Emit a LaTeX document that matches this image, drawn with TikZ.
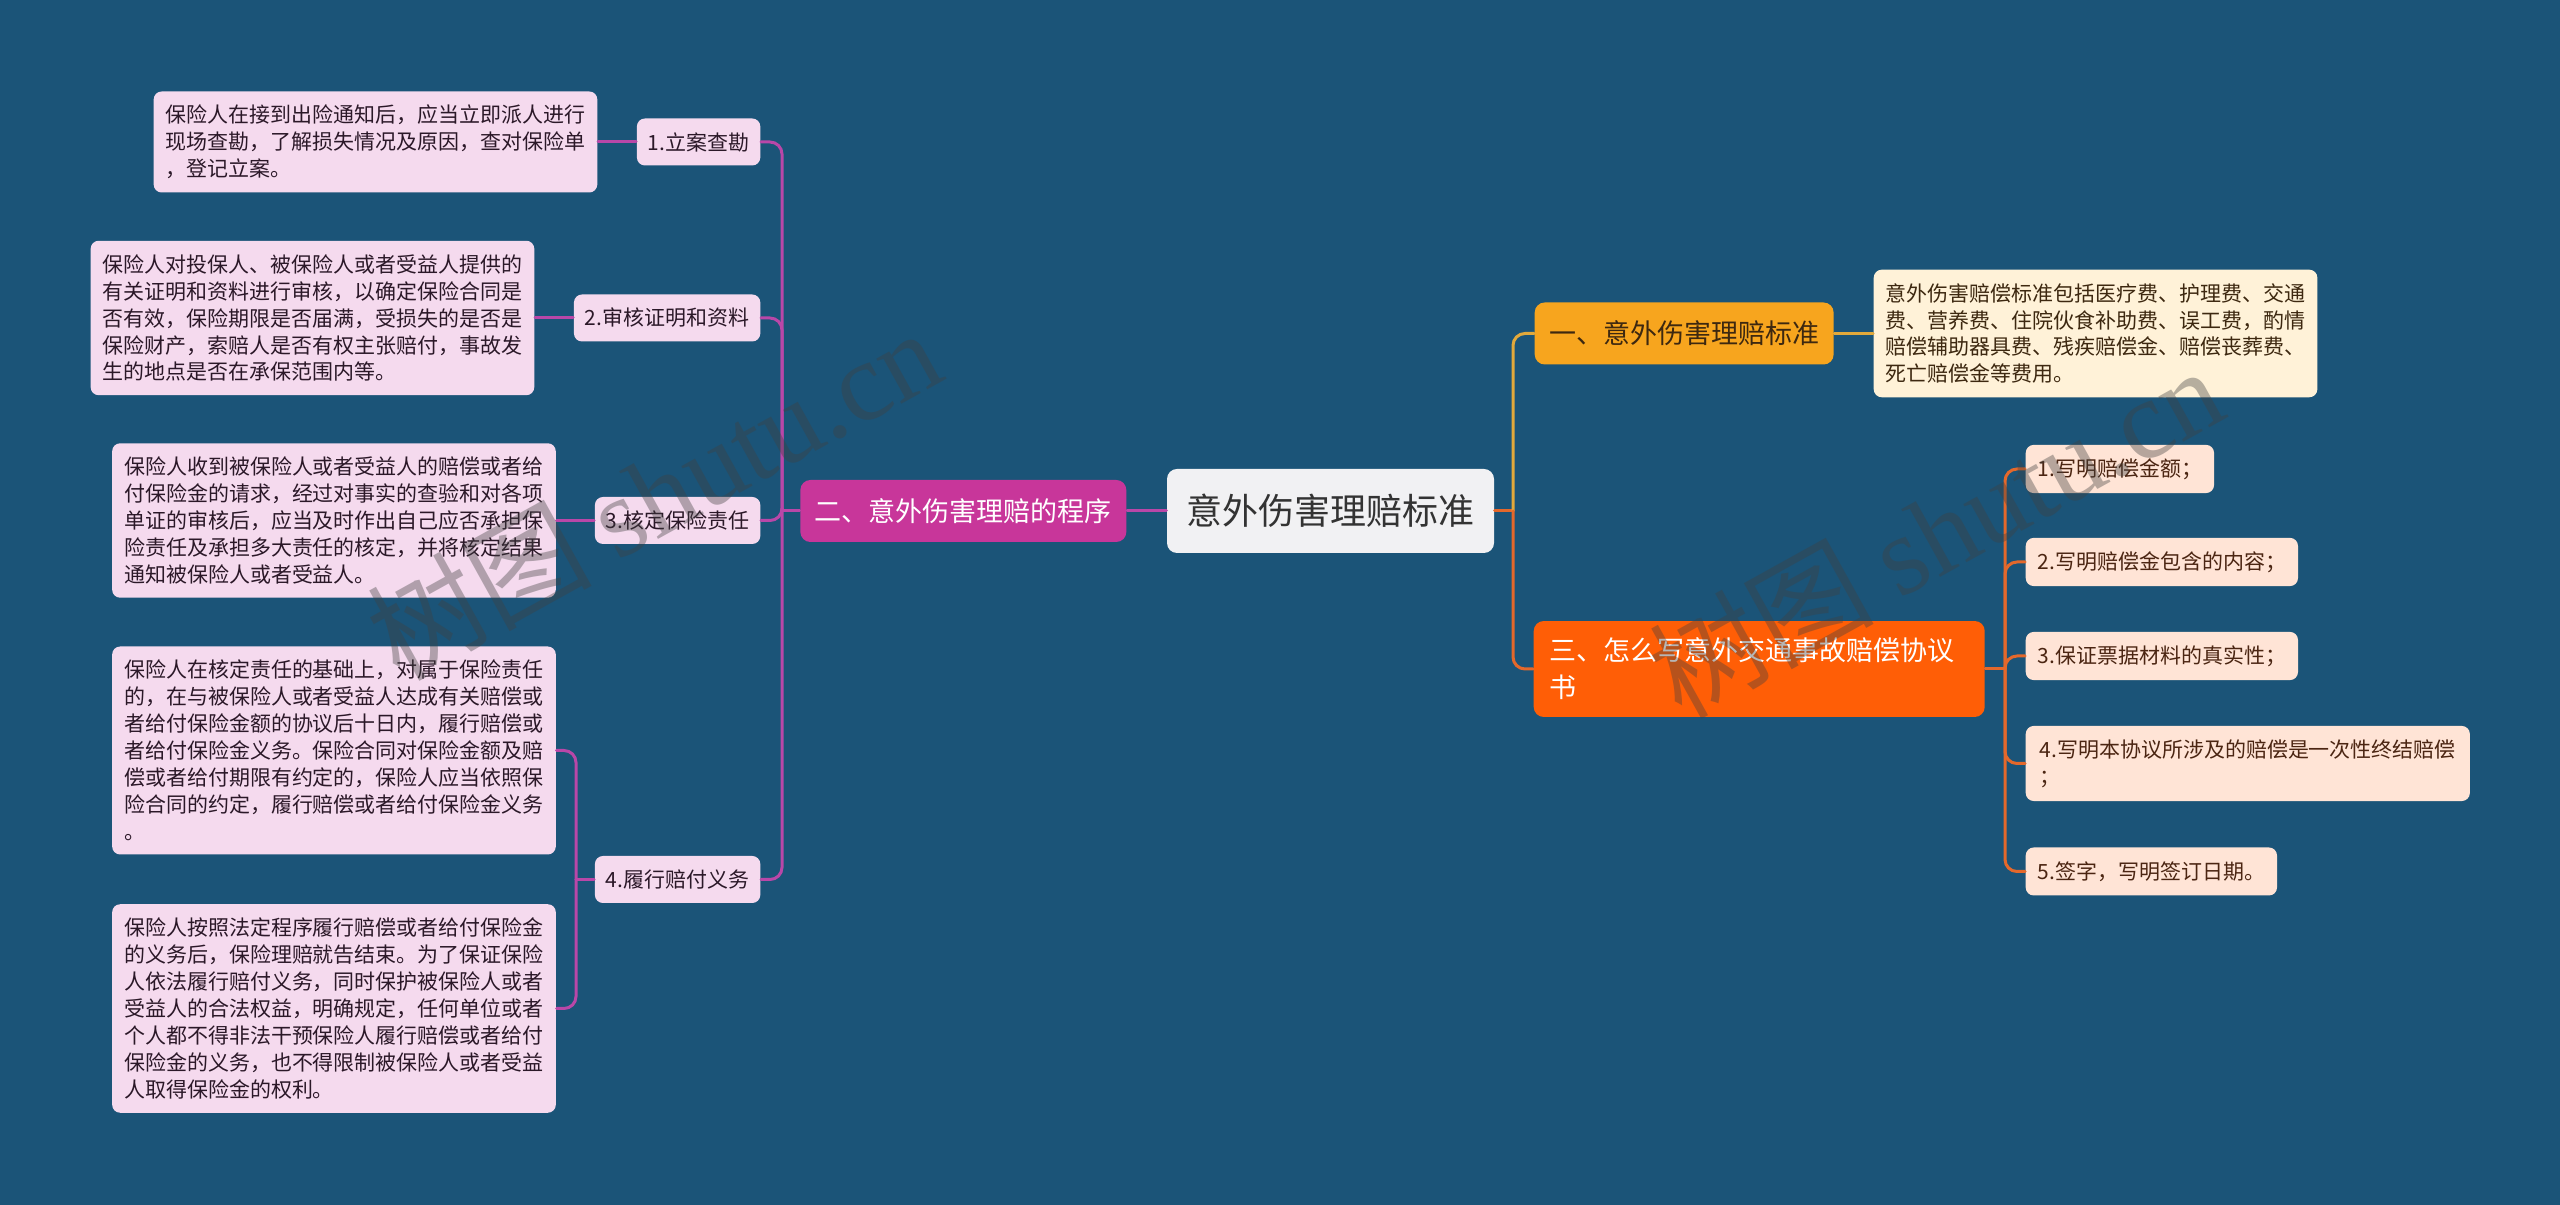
\documentclass[tikz,border=0pt]{standalone}
\usepackage{fontspec}
\setmainfont{Noto Sans CJK SC}
\newfontfamily\wmfont{Liberation Serif}
\usepackage{tikz}
\usetikzlibrary{positioning}
\usepackage{xcolor}
\definecolor{bgblue}{HTML}{1B5478}
\definecolor{rootfill}{HTML}{F1F1F3}
\definecolor{pinkfill}{HTML}{F5DAEE}
\definecolor{pinktext}{HTML}{2B1828}
\definecolor{creamfill}{HTML}{FFF2D8}
\definecolor{creamtext}{HTML}{3D2810}
\definecolor{peachfill}{HTML}{FFE4D6}
\definecolor{peachtext}{HTML}{4B2512}
\definecolor{yelfill}{HTML}{F7A51E}
\definecolor{magfill}{HTML}{C8369A}
\definecolor{orgfill}{HTML}{FF5E06}
\definecolor{magline}{HTML}{B947A8}
\definecolor{yelline}{HTML}{E2A93B}
\definecolor{orgline}{HTML}{E4682B}

\begin{document}
\begin{tikzpicture}[line cap=round,line join=round,
  box/.style={rounded corners=0.08cm,inner xsep=0.12cm,inner ysep=0.135cm,align=left,font=\fontsize{5.97}{7.68}\selectfont},
  pinkbox/.style={box,fill=pinkfill,text=pinktext},
  creambox/.style={box,fill=creamfill,text=creamtext},
  peachbox/.style={box,fill=peachfill,text=peachtext,minimum height=0.48cm},
  branch/.style={rounded corners=0.1cm,inner xsep=0.145cm,minimum height=0.62cm,font=\fontsize{7.68}{10.5}\selectfont},
  link/.style={line width=0.03cm,rounded corners=0.12cm},
  wmark/.style={opacity=0.38,text=black!75,rotate=29,font=\fontsize{32}{36}\selectfont}]
\fill[bgblue] (0,0) rectangle (25.6,-12.05);
\useasboundingbox (0,0) rectangle (25.6,-12.05);

\node[rounded corners=0.1cm,fill=rootfill,text=black!80,minimum width=3.27cm,minimum height=0.84cm,font=\fontsize{10.24}{12}\selectfont] (root) at (13.305,-5.11) {意外伤害理赔标准};

\node[branch,fill=yelfill,text=creamtext,anchor=west] (b1) at (15.34,-3.335) {一、意外伤害理赔标准};
\node[branch,fill=magfill,text=white,anchor=east] (b2) at (11.27,-5.11) {二、意外伤害理赔的程序};
\node[branch,fill=orgfill,text=white,anchor=west,align=left,text width=4.19cm,inner xsep=0.16cm,inner ysep=0.17cm] (b3) at (15.33,-6.69) {三、怎么写意外交通事故赔偿协议\\书};

\node[creambox,anchor=west] (n1) at (18.73,-3.335) {意外伤害赔偿标准包括医疗费、护理费、交通\\费、营养费、住院伙食补助费、误工费，酌情\\赔偿辅助器具费、残疾赔偿金、赔偿丧葬费、\\死亡赔偿金等费用。};

\node[peachbox,anchor=west] (c1) at (20.25,-4.69) {1.写明赔偿金额；};
\node[peachbox,anchor=west] (c2) at (20.25,-5.62) {2.写明赔偿金包含的内容；};
\node[peachbox,anchor=west] (c3) at (20.25,-6.56) {3.保证票据材料的真实性；};
\node[peachbox,anchor=west,inner xsep=0.14cm] (c4) at (20.25,-7.635) {4.写明本协议所涉及的赔偿是一次性终结赔偿\\；};
\node[peachbox,anchor=west] (c5) at (20.25,-8.715) {5.签字，写明签订日期。};

\node[pinkbox,anchor=east,minimum height=0.47cm,inner xsep=0.11cm] (k1) at (7.61,-1.42) {1.立案查勘};
\node[pinkbox,anchor=east,minimum height=0.47cm,inner xsep=0.11cm] (k2) at (7.61,-3.18) {2.审核证明和资料};
\node[pinkbox,anchor=east,minimum height=0.47cm,inner xsep=0.11cm] (k3) at (7.61,-5.205) {3.核定保险责任};
\node[pinkbox,anchor=east,minimum height=0.47cm,inner xsep=0.11cm] (k4) at (7.61,-8.795) {4.履行赔付义务};

\node[pinkbox,anchor=east] (l1) at (5.98,-1.42) {保险人在接到出险通知后，应当立即派人进行\\现场查勘，了解损失情况及原因，查对保险单\\，登记立案。};
\node[pinkbox,anchor=east] (l2) at (5.35,-3.18) {保险人对投保人、被保险人或者受益人提供的\\有关证明和资料进行审核，以确定保险合同是\\否有效，保险期限是否届满，受损失的是否是\\保险财产，索赔人是否有权主张赔付，事故发\\生的地点是否在承保范围内等。};
\node[pinkbox,anchor=east] (l3) at (5.565,-5.205) {保险人收到被保险人或者受益人的赔偿或者给\\付保险金的请求，经过对事实的查验和对各项\\单证的审核后，应当及时作出自己应否承担保\\险责任及承担多大责任的核定，并将核定结果\\通知被保险人或者受益人。};
\node[pinkbox,anchor=east] (l4a) at (5.565,-7.505) {保险人在核定责任的基础上，对属于保险责任\\的，在与被保险人或者受益人达成有关赔偿或\\者给付保险金额的协议后十日内，履行赔偿或\\者给付保险金义务。保险合同对保险金额及赔\\偿或者给付期限有约定的，保险人应当依照保\\险合同的约定，履行赔偿或者给付保险金义务\\。};
\node[pinkbox,anchor=east] (l4b) at (5.565,-10.085) {保险人按照法定程序履行赔偿或者给付保险金\\的义务后，保险理赔就告结束。为了保证保险\\人依法履行赔付义务，同时保护被保险人或者\\受益人的合法权益，明确规定，任何单位或者\\个人都不得非法干预保险人履行赔偿或者给付\\保险金的义务，也不得限制被保险人或者受益\\人取得保险金的权利。};

\coordinate (jr) at (15.13,-5.11);
\coordinate (jc) at (20.05,-6.69);
\coordinate (jl) at (7.82,-5.11);
\coordinate (jk) at (5.76,-8.795);

\draw[link,orgline] (root.east) -- (jr);
\draw[link,yelline] (jr) |- (b1.west);
\draw[link,orgline] (jr) |- (b3.west);
\draw[link,yelline] (b1.east) -- (n1.west);
\draw[link,orgline] (b3.east) -- (jc);
\foreach \c in {c1,c2,c3,c4,c5}
  \draw[link,orgline] (jc) |- (\c.west);

\draw[link,magline] (root.west) -- (b2.east);
\draw[link,magline] (b2.west) -- (jl);
\foreach \k in {k1,k2,k3,k4}
  \draw[link,magline] (jl) |- (\k.east);
\draw[link,magline] (k1.west) -- (l1.east);
\draw[link,magline] (k2.west) -- (l2.east);
\draw[link,magline] (k3.west) -- (l3.east);
\draw[link,magline] (k4.west) -- (jk);
\draw[link,magline] (jk) |- (l4a.east);
\draw[link,magline] (jk) |- (l4b.east);

\node[wmark] (wm1) at (6.53,-4.93) {树图 {\wmfont shutu.cn}};
\node[wmark] (wm2) at (19.35,-5.31) {树图 {\wmfont shutu.cn}};
\end{tikzpicture}
\end{document}
